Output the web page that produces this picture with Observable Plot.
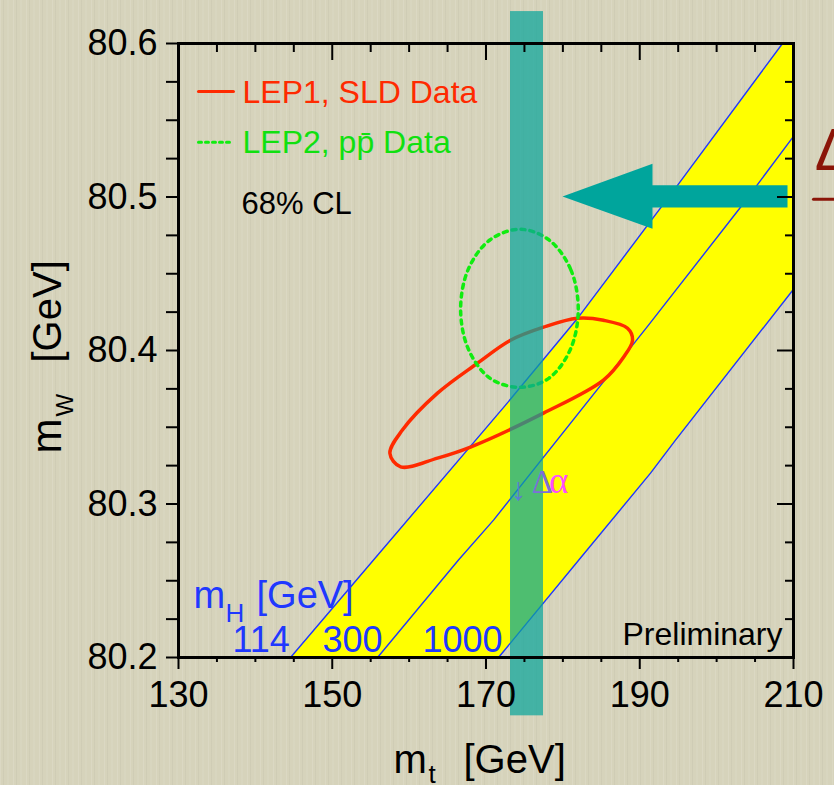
<!DOCTYPE html>
<html><head><meta charset="utf-8">
<script src="https://cdn.jsdelivr.net/npm/d3@7"></script>
<script src="https://cdn.jsdelivr.net/npm/@observablehq/plot@0.6"></script>
<style>
html,body{margin:0;padding:0;}
body{width:834px;height:785px;overflow:hidden;background-color:#d6d3bb;
background-image:repeating-linear-gradient(90deg,rgba(255,255,255,.12) 0 1px,rgba(0,0,0,0) 1px 3px,rgba(0,0,0,.03) 3px 4px,rgba(0,0,0,0) 4px 7px,rgba(255,255,255,.06) 7px 9px,rgba(0,0,0,0) 9px 13px);}
#chart svg{display:block;}
</style></head><body><div id="chart"></div>
<script>
const F = '"Liberation Sans", Arial, Helvetica, sans-serif';
const FS = '"Liberation Serif", "Times New Roman", serif';

// axis ticks
const xMajor = [130,150,170,190,210];
const xMinor = [135,140,145,155,160,165,175,180,185,195,200,205];
const yMajor = [80.2,80.3,80.4,80.5,80.6];
const yMinor = [80.225,80.25,80.275,80.325,80.35,80.375,80.425,80.45,80.475,80.525,80.55,80.575];

// SM prediction lines for m_H = 114, 300, 1000 GeV
const mt114 = [144.57,155.37,172.54,182.03,194.91,208.57];
const mw114 = [80.2,80.2635,80.3644,80.4217,80.5076,80.6];
const mt300 = [155.89,166.42,170.98,191.14,203.11,210];
const mw300 = [80.2,80.2635,80.2895,80.4165,80.4933,80.5395];
const mt1000 = [171.63,182.29,191.40,194.65,210];
const mw1000 = [80.2,80.2648,80.3201,80.3416,80.4399];

// 68% CL contours
const lep1Mt = [157.50,158.90,163.69,167.98,177.48,185.28,187.89,189.06,188.41,185.28,181.90,177.48,173.19,168.89,163.69,159.10];
const lep1Mw = [80.3330,80.3242,80.3299,80.3371,80.3592,80.3807,80.3956,80.4067,80.4145,80.4197,80.4210,80.4152,80.4067,80.3917,80.3722,80.3480];
const lep2Mt = [182.0,181.0,178.2,174.4,170.5,167.7,166.7,167.7,170.5,174.4,178.2,181.0];
const lep2Mw = [80.427,80.453,80.472,80.479,80.472,80.453,80.427,80.401,80.382,80.376,80.382,80.401];

// direct m_t measurement band
const bandMt = [173.19,177.48];
const bandMw = [80.162,80.6208];

// arrow (tip, head base, tail) and its mW
const arrowMt = [179.95,191.66,209.22];
const arrowMw = [80.5004,80.5216,80.5076,80.4932,80.4793];

const higgsLabels = ["114","300","1000"];
const legendLabels = ["LEP1, SLD Data","LEP2, pp\u0304 Data"];

const pts = (xs, ys) => xs.map((x,i)=>({x, y: ys[i]}));
const yellow = [...pts(mt114,mw114), {x:210,y:80.6}, ...pts(mt1000,mw1000).reverse()];
const arrowPoly = [
  {x:arrowMt[0],y:arrowMw[0]},{x:arrowMt[1],y:arrowMw[1]},{x:arrowMt[1],y:arrowMw[2]},
  {x:arrowMt[2],y:arrowMw[2]},{x:arrowMt[2],y:arrowMw[3]},{x:arrowMt[1],y:arrowMw[3]},
  {x:arrowMt[1],y:arrowMw[4]}];

const blue = "#2038ff";
const plot = Plot.plot({
  width: 834, height: 785,
  marginLeft: 178, marginRight: 41, marginTop: 43, marginBottom: 128,
  x: {domain:[130,210]}, y: {domain:[80.2,80.6]},
  axis: null,
  style: {background:"transparent", fontFamily: F, color:"black"},
  marks: [
    Plot.line(yellow, {x:"x", y:"y", fill:"#ffff00", stroke:"none"}),
    Plot.line(pts(mt114,mw114), {x:"x", y:"y", stroke:blue, strokeWidth:1.4}),
    Plot.line(pts(mt300,mw300), {x:"x", y:"y", stroke:blue, strokeWidth:1.4}),
    Plot.line(pts(mt1000,mw1000), {x:"x", y:"y", stroke:blue, strokeWidth:1.4}),
    Plot.line(pts(lep1Mt,lep1Mw), {x:"x", y:"y", curve:"catmull-rom-closed", stroke:"#ff2a00", strokeWidth:3.5}),
    Plot.line(pts(lep2Mt,lep2Mw), {x:"x", y:"y", curve:"catmull-rom-closed", stroke:"#10ec10", strokeWidth:3.5, strokeDasharray:"4,5"}),
    Plot.rect([{x1:bandMt[0],x2:bandMt[1],y1:bandMw[0],y2:bandMw[1]}], {x1:"x1",x2:"x2",y1:"y1",y2:"y2", fill:"rgb(10,165,155)", fillOpacity:0.72}),
    Plot.text(["\u2193"], {x:174.23, y:80.3026, textAnchor:"middle", lineAnchor:"bottom", fontSize:32, fontWeight:"bold", fill:"#5a7cd4"}),
    Plot.text(["\u0394"], {x:175.95, y:80.3071, textAnchor:"start", lineAnchor:"bottom", fontSize:33, fontFamily:FS, fill:"#7d6fd8"}),
    Plot.text(["\u03b1"], {x:178.2, y:80.3071, textAnchor:"start", lineAnchor:"bottom", fontSize:37, fontFamily:FS, fill:"#ff4dff"}),
    Plot.line(arrowPoly, {x:"x", y:"y", fill:"#00a59c", stroke:"none"}),
    Plot.frame({stroke:"black", strokeWidth:3}),
    // outward ticks with labels
    Plot.axisX(xMajor, {anchor:"bottom", tickSize:12, tickPadding:12, fontSize:36, strokeWidth:2, tickFormat:d=>String(d), label:null}),
    Plot.axisX(xMinor, {anchor:"bottom", tickSize:5, strokeWidth:2, tickFormat:()=>"", label:null}),
    Plot.axisY(yMajor, {anchor:"left", tickSize:12, tickPadding:9, fontSize:36, strokeWidth:2, tickFormat:d=>d.toFixed(1), label:null}),
    Plot.axisY(yMinor, {anchor:"left", tickSize:12, strokeWidth:2, tickFormat:()=>"", label:null}),
    // inward ticks top / right
    Plot.tickX(xMajor, {x:d=>d, insetBottom:614-17, strokeWidth:2}),
    Plot.tickX(xMinor, {x:d=>d, insetBottom:614-9, strokeWidth:2}),
    Plot.tickY(yMajor, {y:d=>d, insetLeft:615-16, strokeWidth:2}),
    Plot.tickY(yMinor, {y:d=>d, insetLeft:615-8, strokeWidth:2}),
    // legend
    Plot.line([{x:132.6,y:80.5688},{x:137.15,y:80.5688}], {x:"x", y:"y", stroke:"#ff2a00", strokeWidth:3}),
    Plot.line([{x:132.6,y:80.5356},{x:137.15,y:80.5356}], {x:"x", y:"y", stroke:"#10ec10", strokeWidth:3, strokeDasharray:"3,4"}),
    Plot.text([legendLabels[0]], {x:138.33, y:80.561, textAnchor:"start", lineAnchor:"bottom", fontSize:32, fill:"#ff2a00"}),
    Plot.text([legendLabels[1]], {x:138.33, y:80.5284, textAnchor:"start", lineAnchor:"bottom", fontSize:32, fill:"#10e010"}),
    Plot.text(["68% CL"], {x:138.2, y:80.4887, textAnchor:"start", lineAnchor:"bottom", fontSize:31, fill:"black"}),
    // Higgs mass labels
    Plot.text(["m"], {x:131.95, y:80.2323, textAnchor:"start", lineAnchor:"bottom", fontSize:38, fill:blue}),
    Plot.text(["H"], {x:136.11, y:80.2232, textAnchor:"start", lineAnchor:"bottom", fontSize:26, fill:blue}),
    Plot.text(["[GeV]"], {x:140.15, y:80.2323, textAnchor:"start", lineAnchor:"bottom", fontSize:38, fill:blue}),
    Plot.text([higgsLabels[0]], {x:137.02, y:80.2036, textAnchor:"start", lineAnchor:"bottom", fontSize:36, fill:blue}),
    Plot.text([higgsLabels[1]], {x:148.73, y:80.2036, textAnchor:"start", lineAnchor:"bottom", fontSize:36, fill:blue}),
    Plot.text([higgsLabels[2]], {x:161.74, y:80.2036, textAnchor:"start", lineAnchor:"bottom", fontSize:36, fill:blue}),
    Plot.text(["Preliminary"], {x:208.57, y:80.2082, textAnchor:"end", lineAnchor:"bottom", fontSize:32, fill:"black"}),
    // right-side delta
    Plot.text(["\u0394"], {x:212.75, y:80.5173, textAnchor:"start", lineAnchor:"bottom", fontSize:60, fill:"#8b1508"}),
    Plot.line([{x:212.6,y:80.4985},{x:216,y:80.4985}], {x:"x", y:"y", stroke:"#8b1508", strokeWidth:3}),
    // axis titles
    Plot.text(["m"], {frameAnchor:"bottom-left", dx:215, dy:115, textAnchor:"start", lineAnchor:"bottom", fontSize:40}),
    Plot.text(["t"], {frameAnchor:"bottom-left", dx:250, dy:125, textAnchor:"start", lineAnchor:"bottom", fontSize:26}),
    Plot.text(["[GeV]"], {frameAnchor:"bottom-left", dx:285, dy:115, textAnchor:"start", lineAnchor:"bottom", fontSize:40}),
    Plot.text(["m"], {frameAnchor:"top-left", dx:-118, dy:410, rotate:-90, textAnchor:"start", lineAnchor:"bottom", fontSize:42}),
    Plot.text(["W"], {frameAnchor:"top-left", dx:-106, dy:373, rotate:-90, textAnchor:"start", lineAnchor:"bottom", fontSize:24}),
    Plot.text(["[GeV]"], {frameAnchor:"top-left", dx:-118, dy:319, rotate:-90, textAnchor:"start", lineAnchor:"bottom", fontSize:40})
  ]
});
document.getElementById("chart").appendChild(plot);
</script></body></html>
